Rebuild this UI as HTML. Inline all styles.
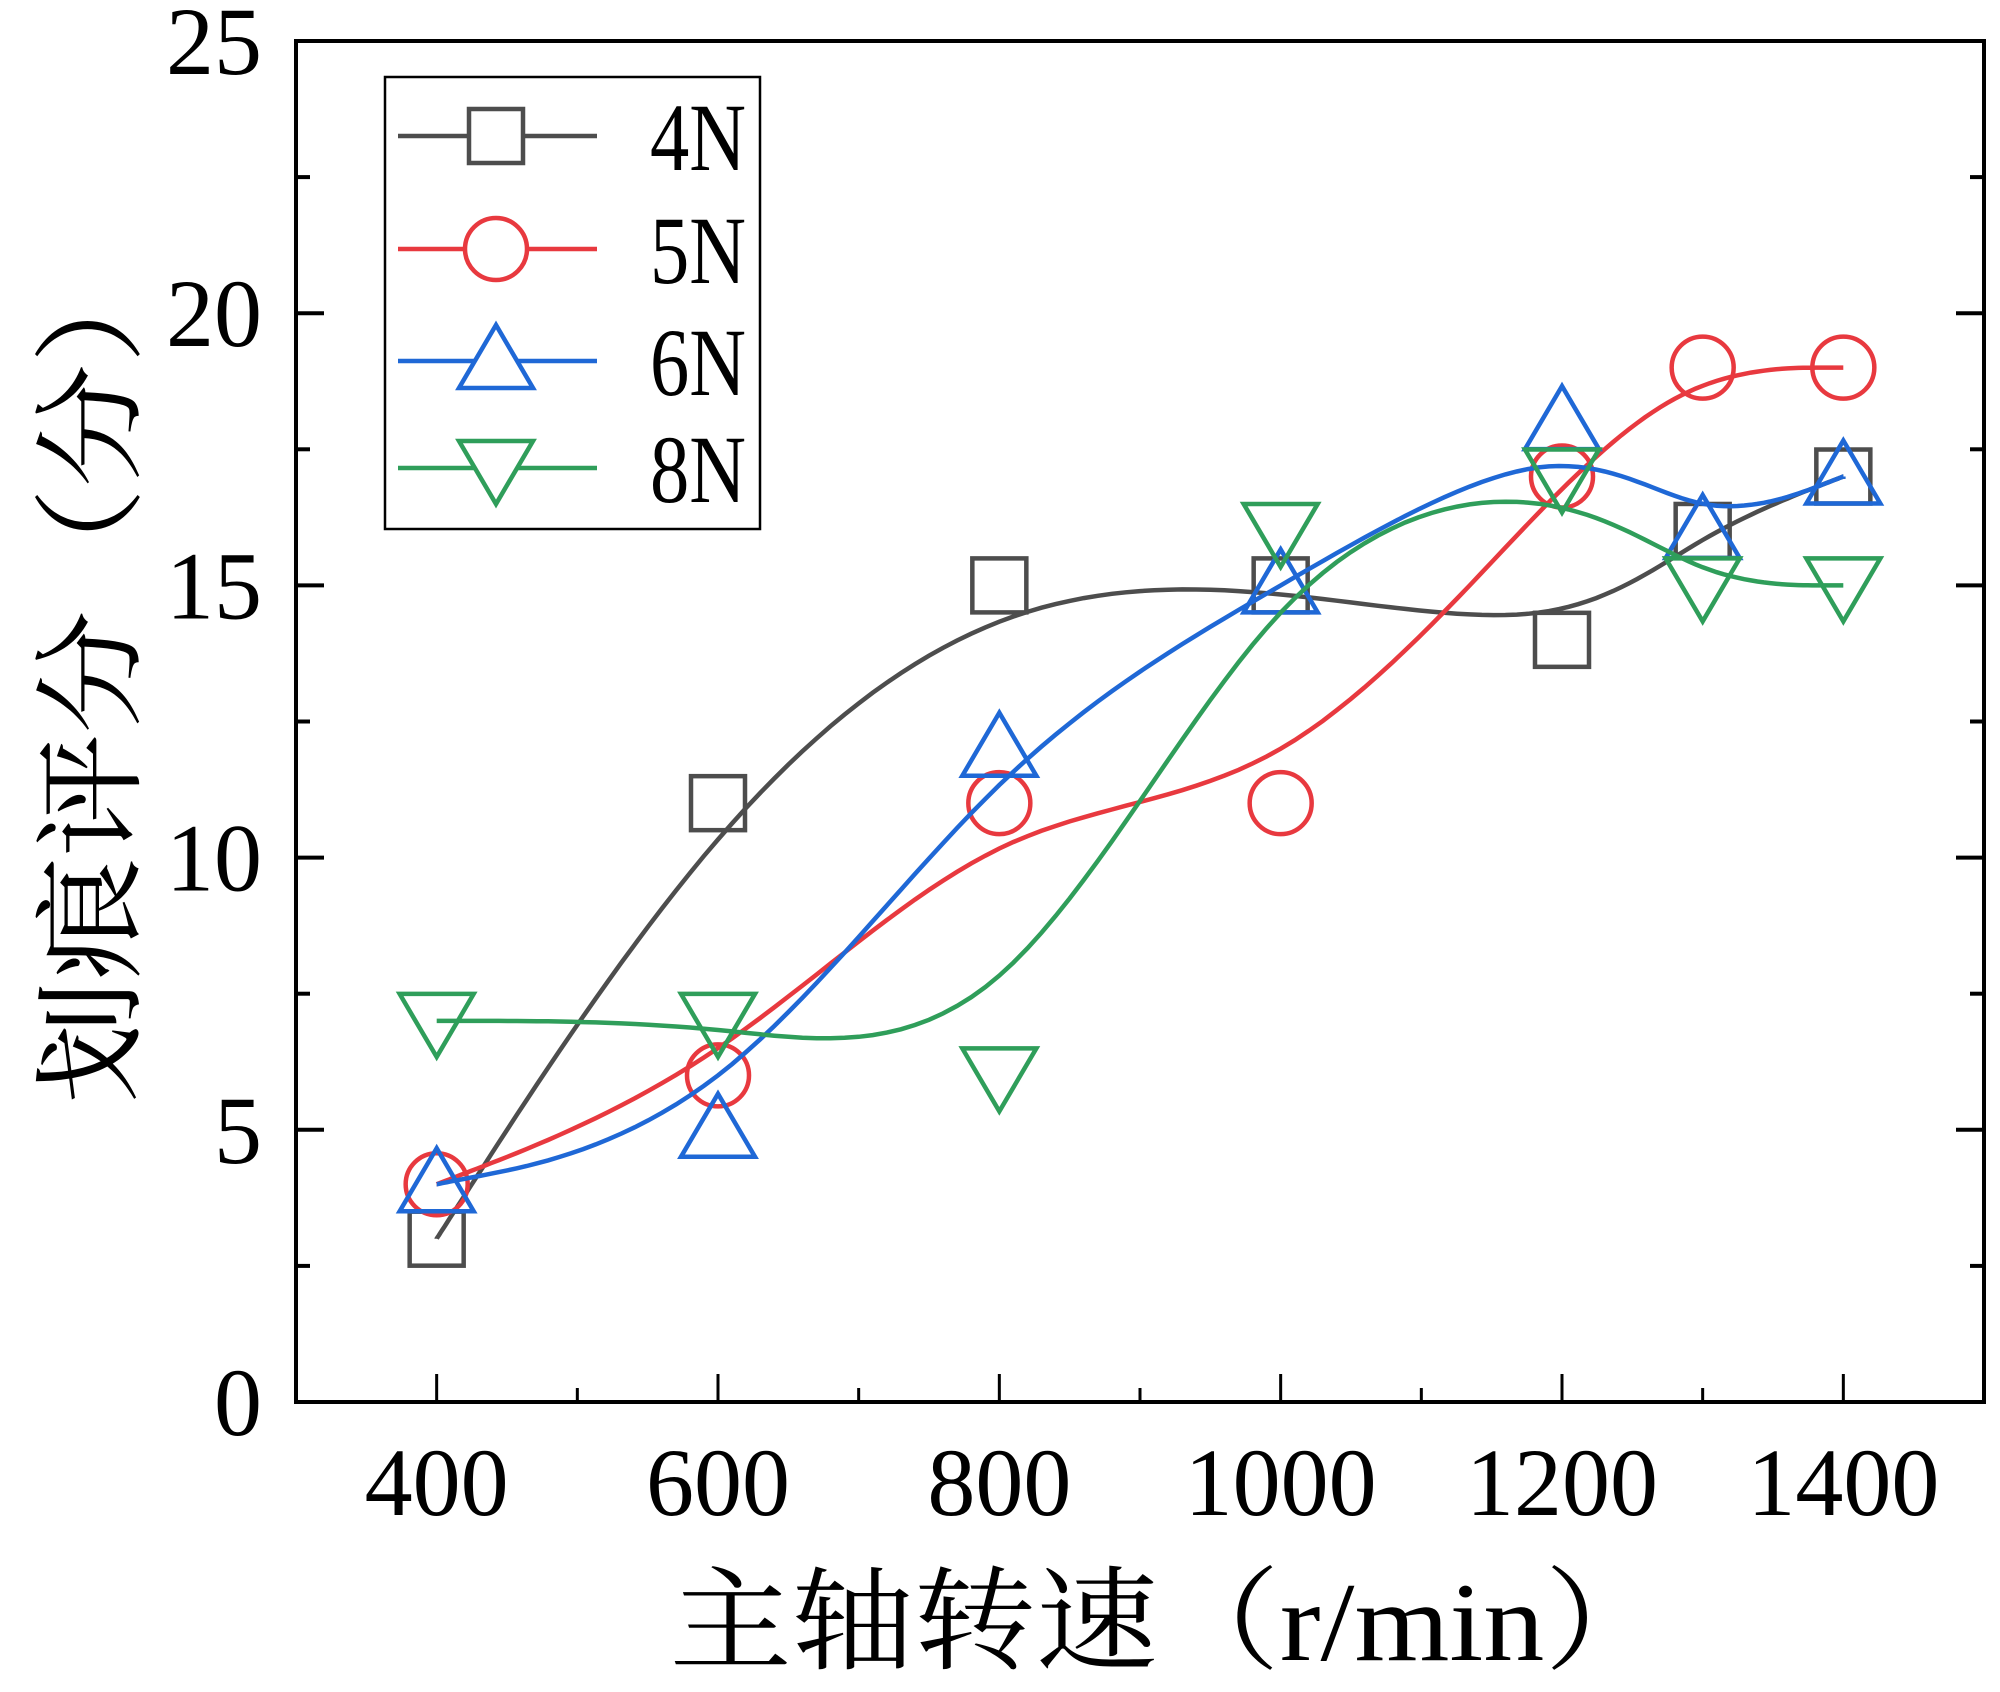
<!DOCTYPE html>
<html><head><meta charset="utf-8"><style>
html,body{margin:0;padding:0;background:#fff;}
svg{display:block;}
text{font-family:"Liberation Serif","Noto Serif CJK SC",serif;fill:#000;}
</style></head><body>
<svg id="chart" width="2000" height="1692" viewBox="0 0 2000 1692" xmlns="http://www.w3.org/2000/svg">
<g id="plot"></g>
</svg>
<script>
const categories = [400, 600, 800, 1000, 1200, 1300, 1400];
const series4N = [3, 11, 15, 15, 14, 16, 17];
const series5N = [4, 6, 11, 11, 17, 19, 19];
const series6N = [4, 5, 12, 15, 18, 16, 17];
const series8N = [7, 7, 6, 16, 17, 15, 15];
const xTicks = [400, 600, 800, 1000, 1200, 1400];
const yTicks = [0, 5, 10, 15, 20, 25];

const L = 296, R = 1984, T = 41, B = 1402;
const xMin = 300, xMax = 1500, yMin = 0, yMax = 25;
const sx = v => L + (v - xMin) / (xMax - xMin) * (R - L);
const sy = v => B - (v - yMin) / (yMax - yMin) * (B - T);
const NS = 'http://www.w3.org/2000/svg';
const g = document.getElementById('plot');
function mk(tag, attrs, parent) {
  const e = document.createElementNS(NS, tag);
  for (const k in attrs) e.setAttribute(k, attrs[k]);
  (parent || g).appendChild(e);
  return e;
}

const frame = mk('rect', {x: L, y: T, width: R - L, height: B - T, fill: 'none', stroke: '#000', 'stroke-width': 4});



for (let v = 300; v <= 1500; v += 100) {
  const major = xTicks.includes(v);
  if (v === 300 || v === 1500) continue;
  const t = mk('line', {x1: sx(v), x2: sx(v), y1: B, y2: B - (major ? 28 : 14), stroke: '#000', 'stroke-width': 3});
  
  
}
xTicks.forEach(v => {
  const t = mk('text', {x: sx(v), y: 1515, 'text-anchor': 'middle', 'font-size': 96});
  t.textContent = v;
  
  
});
for (let v = 2.5; v < 25; v += 2.5) {
  const major = v % 5 === 0;
  const len = major ? 28 : 14;
  const a = mk('line', {x1: L, x2: L + len, y1: sy(v), y2: sy(v), stroke: '#000', 'stroke-width': 4});
  
  
  const b = mk('line', {x1: R, x2: R - len, y1: sy(v), y2: sy(v), stroke: '#000', 'stroke-width': 4});
  
  
}
yTicks.forEach(v => {
  const t = mk('text', {x: 262, y: sy(v) + 33, 'text-anchor': 'end', 'font-size': 96});
  t.textContent = v;
  
  
});

const xt = mk('text', {x: 0, y: 0, 'text-anchor': 'middle', 'font-size': 112, transform: 'translate(1168,1660) scale(1.09,1)'});
xt.textContent = '主轴转速（r/min）';


const yt = mk('text', {x: 0, y: 0, 'text-anchor': 'middle', 'font-size': 112, transform: 'translate(130,672) rotate(-90) scale(1.1,1)'});
yt.textContent = '划痕评分（分）';



function bspline(pts) {
  const P = [pts[0], pts[0], ...pts, pts[pts.length - 1], pts[pts.length - 1]];
  let d = '';
  for (let i = 0; i + 3 < P.length; i++) {
    for (let s = 0; s <= 20; s++) {
      const t = s / 20, t2 = t * t, t3 = t2 * t;
      const b0 = (1 - t) ** 3 / 6, b1 = (3 * t3 - 6 * t2 + 4) / 6, b2 = (-3 * t3 + 3 * t2 + 3 * t + 1) / 6, b3 = t3 / 6;
      const x = b0 * P[i][0] + b1 * P[i + 1][0] + b2 * P[i + 2][0] + b3 * P[i + 3][0];
      const y = b0 * P[i][1] + b1 * P[i + 1][1] + b2 * P[i + 2][1] + b3 * P[i + 3][1];
      d += (d ? 'L' : 'M') + x.toFixed(1) + ',' + y.toFixed(1);
    }
  }
  return d;
}
function marker(type, cx, cy, color, parent) {
  let e;
  const st = {fill: 'none', stroke: color, 'stroke-width': 4.5};
  if (type === 'square') e = mk('rect', Object.assign({x: cx - 27, y: cy - 27, width: 54, height: 54}, st), parent);
  else if (type === 'circle') e = mk('circle', Object.assign({cx: cx, cy: cy, r: 31}, st), parent);
  else if (type === 'up') e = mk('polygon', Object.assign({points: `${cx},${cy - 36} ${cx - 37},${cy + 27} ${cx + 37},${cy + 27}`}, st), parent);
  else e = mk('polygon', Object.assign({points: `${cx},${cy + 36} ${cx - 37},${cy - 27} ${cx + 37},${cy - 27}`}, st), parent);
  return e;
}
const defs = [
  {name: '4N', data: series4N, color: '#4d4d4d', m: 'square'},
  {name: '5N', data: series5N, color: '#e8393f', m: 'circle'},
  {name: '6N', data: series6N, color: '#1f68d6', m: 'up'},
  {name: '8N', data: series8N, color: '#2f9e5a', m: 'down'}
];
defs.forEach(s => {
  const grp = mk('g', {});
  
  
  const pts = categories.map((c, i) => [sx(c), sy(s.data[i])]);
  const p = mk('path', {d: bspline(pts), fill: 'none', stroke: s.color, 'stroke-width': 4.5}, grp);
  
  
  pts.forEach(pt => {
    const m = marker(s.m, pt[0], pt[1], s.color, grp);
    
    
  });
});

const lg = mk('g', {});


const lb = mk('rect', {x: 385, y: 77, width: 375, height: 452, fill: '#fff', stroke: '#000', 'stroke-width': 2.5}, lg);


const ly = [136, 249, 361, 468];
defs.forEach((s, i) => {
  const e = mk('g', {}, lg);
  
  
  mk('line', {x1: 398, x2: 597, y1: ly[i], y2: ly[i], stroke: s.color, 'stroke-width': 4.5}, e);
  const bg = marker(s.m, 496, ly[i], s.color, e);
  bg.setAttribute('fill', '#fff');
  const t = mk('text', {x: 650, y: ly[i] + 34, 'font-size': 96, textLength: 96, lengthAdjust: 'spacingAndGlyphs'}, e);
  t.textContent = s.name;
});
</script>
</body></html>
